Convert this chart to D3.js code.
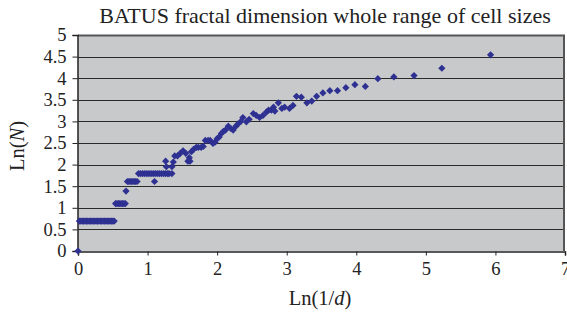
<!DOCTYPE html>
<html>
<head>
<meta charset="utf-8">
<script src="https://cdn.jsdelivr.net/npm/d3@7"></script>
<style>
  body { margin: 0; background: #fff; }
  text { font-family: "Liberation Serif", "DejaVu Serif", serif; fill: #222; }
</style>
</head>
<body>
<svg id="chart"></svg>
<script>
const width = 567;
const height = 313;

// Ln(1/d) values and matching Ln(N) values
const lnInvD = [
  0.00,
  0.02, 0.04, 0.06, 0.08, 0.10, 0.12, 0.14, 0.16, 0.18, 0.20, 0.22, 0.24, 0.26,
  0.28, 0.30, 0.32, 0.34, 0.36, 0.38, 0.40, 0.42, 0.44, 0.46, 0.48, 0.50, 0.52,
  0.54, 0.56, 0.58, 0.60, 0.62, 0.64, 0.66, 0.68,
  0.69,
  0.71, 0.73, 0.75, 0.77, 0.79, 0.81, 0.83, 0.85, 1.10,
  0.87, 0.90, 0.93, 0.96, 0.99, 1.02, 1.05, 1.08, 1.11, 1.14, 1.17, 1.20, 1.23,
  1.26, 1.29, 1.31, 1.35,
  1.26, 1.27, 1.35, 1.37, 1.39, 1.43, 1.47, 1.51, 1.55, 1.58, 1.61, 1.60, 1.63,
  1.66, 1.70, 1.73, 1.77, 1.80, 1.83, 1.87, 1.90, 1.94, 1.97, 2.00, 2.03, 2.06,
  2.09, 2.12, 2.16, 2.20, 2.23, 2.27, 2.30, 2.34, 2.37, 2.42, 2.46, 2.52, 2.56,
  2.61, 2.66, 2.71, 2.74, 2.78, 2.81, 2.83, 2.88, 2.93, 2.97, 3.04, 3.09, 3.14,
  3.21, 3.29, 3.36, 3.43, 3.52, 3.62, 3.73, 3.85, 3.98, 4.13, 4.31, 4.54, 4.83,
  5.23, 5.93
];
const lnN = [
  0.00,
  0.693, 0.693, 0.693, 0.693, 0.693, 0.693, 0.693, 0.693, 0.693, 0.693, 0.693, 0.693, 0.693,
  0.693, 0.693, 0.693, 0.693, 0.693, 0.693, 0.693, 0.693, 0.693, 0.693, 0.693, 0.693, 0.693,
  1.099, 1.099, 1.099, 1.099, 1.099, 1.099, 1.099, 1.099,
  1.386,
  1.609, 1.609, 1.609, 1.609, 1.609, 1.609, 1.609, 1.609, 1.609,
  1.792, 1.792, 1.792, 1.792, 1.792, 1.792, 1.792, 1.792, 1.792, 1.792, 1.792, 1.792, 1.792,
  1.792, 1.792, 1.792, 1.792,
  2.08, 1.95, 1.95, 2.06, 2.20, 2.20, 2.26, 2.32, 2.26, 2.08, 2.08, 2.16, 2.30,
  2.35, 2.40, 2.40, 2.40, 2.42, 2.56, 2.56, 2.56, 2.49, 2.52, 2.60, 2.64, 2.72,
  2.77, 2.80, 2.89, 2.83, 2.80, 2.89, 2.94, 3.00, 3.09, 2.99, 3.05, 3.18, 3.14,
  3.09, 3.14, 3.22, 3.26, 3.26, 3.33, 3.24, 3.43, 3.30, 3.33, 3.30, 3.37, 3.58,
  3.56, 3.43, 3.47, 3.58, 3.66, 3.71, 3.71, 3.78, 3.85, 3.81, 3.99, 4.03, 4.06,
  4.23, 4.54
];
const xTicks = [0, 1, 2, 3, 4, 5, 6, 7];
const yTicks = [0, 0.5, 1, 1.5, 2, 2.5, 3, 3.5, 4, 4.5, 5];

const points = lnInvD.map((x, i) => ({ x: x, y: lnN[i] }));

const margin = { top: 35, right: 2, bottom: 62, left: 78 };

const svg = d3.select("#chart")
    .attr("width", width)
    .attr("height", height);

const x = d3.scaleLinear().domain([0, 7]).range([margin.left, width - margin.right]);
const y = d3.scaleLinear().domain([0, 5]).range([height - margin.bottom, margin.top]);

// Plot background
svg.append("rect")
    .attr("x", x(0))
    .attr("y", y(5))
    .attr("width", x(7) - x(0))
    .attr("height", y(0) - y(5))
    .attr("fill", "#c8c9cb");

// Horizontal gridlines
svg.append("g")
    .selectAll("line")
    .data(yTicks.slice(1))
    .enter()
    .append("line")
    .attr("x1", x(0))
    .attr("x2", x(7))
    .attr("y1", d => Math.round(y(d)) + 0.5)
    .attr("y2", d => Math.round(y(d)) + 0.5)
    .attr("stroke", d => d === 5 ? "#555" : "#2a2a2a")
    .attr("stroke-width", d => d === 5 ? 2 : 1);

// Right frame
svg.append("line")
    .attr("x1", x(7) - 1).attr("x2", x(7) - 1)
    .attr("y1", y(5)).attr("y2", y(0))
    .attr("stroke", "#555")
    .attr("stroke-width", 2);

// Axes
const xAxis = svg.append("g")
    .attr("transform", `translate(0,${Math.round(y(0)) + 0.5})`)
    .call(d3.axisBottom(x).tickValues(xTicks).tickSize(4).tickPadding(3).tickFormat(d3.format("d")));

const yAxis = svg.append("g")
    .attr("transform", `translate(${Math.round(x(0)) - 0.5},0)`)
    .call(d3.axisLeft(y).tickValues(yTicks).tickSize(5).tickPadding(6).tickFormat(d => String(d)));

[xAxis, yAxis].forEach(g => {
    g.select(".domain").attr("stroke", "#222").attr("stroke-width", 1.5);
    g.selectAll(".tick line").attr("stroke", "#222");
    g.selectAll(".tick text").attr("font-size", 18.5).attr("fill", "#222")
        .style("font-family", "'Liberation Serif', 'DejaVu Serif', serif");
});
xAxis.selectAll(".tick text").attr("dy", "0.9em");

// Data points (square turned 45 degrees)
svg.append("g")
    .selectAll("path")
    .data(points)
    .enter()
    .append("path")
    .attr("d", d3.symbol().type(d3.symbolSquare).size(26))
    .attr("transform", d => `translate(${x(d.x)},${y(d.y)}) rotate(45)`)
    .attr("fill", "#2e3192");

// Title
svg.append("text")
    .attr("x", 325)
    .attr("y", 23)
    .attr("text-anchor", "middle")
    .attr("font-size", 22)
    .text("BATUS fractal dimension whole range of cell sizes");

// Axis titles
const xTitle = svg.append("text")
    .attr("x", 320)
    .attr("y", 305)
    .attr("text-anchor", "middle")
    .attr("font-size", 20.5);
xTitle.append("tspan").text("Ln(1/");
xTitle.append("tspan").attr("font-style", "italic").text("d");
xTitle.append("tspan").text(")");

const yTitle = svg.append("text")
    .attr("transform", "translate(24,146) rotate(-90)")
    .attr("text-anchor", "middle")
    .attr("font-size", 20.5);
yTitle.append("tspan").text("Ln(");
yTitle.append("tspan").attr("font-style", "italic").text("N");
yTitle.append("tspan").text(")");
</script>
</body>
</html>
